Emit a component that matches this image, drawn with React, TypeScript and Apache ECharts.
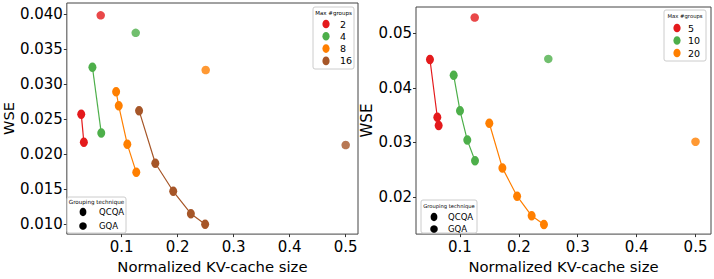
import React, { useEffect, useRef } from 'react';
import * as echarts from 'echarts';

// ---- Left panel data ----
const leftGroups = ['2', '4', '8', '16'];
const leftQcqaSize = [
  [0.0277, 0.0324],
  [0.0477, 0.0635],
  [0.09, 0.0947, 0.11, 0.126],
  [0.131, 0.16, 0.192, 0.2235, 0.249],
];
const leftQcqaWse = [
  [0.0257, 0.0217],
  [0.0324, 0.023],
  [0.0289, 0.0269, 0.0214, 0.0174],
  [0.0262, 0.0187, 0.0147, 0.0115, 0.01],
];
const leftGqaSize = [0.0625, 0.125, 0.25, 0.5];
const leftGqaWse = [0.0398, 0.0373, 0.032, 0.0213];
const leftXTicks = [0.1, 0.2, 0.3, 0.4, 0.5];
const leftYTicks = [0.01, 0.015, 0.02, 0.025, 0.03, 0.035, 0.04];

// ---- Right panel data ----
const rightGroups = ['5', '10', '20'];
const rightQcqaSize = [
  [0.049, 0.0615, 0.0638],
  [0.0893, 0.1, 0.1124, 0.1255],
  [0.1498, 0.172, 0.197, 0.2217, 0.2426],
];
const rightQcqaWse = [
  [0.0452, 0.0346, 0.0331],
  [0.0423, 0.0358, 0.0304, 0.0266],
  [0.0335, 0.0253, 0.0201, 0.0165, 0.0149],
];
const rightGqaSize = [0.125, 0.25, 0.5];
const rightGqaWse = [0.0529, 0.0453, 0.0301];
const rightXTicks = [0.1, 0.2, 0.3, 0.4, 0.5];
const rightYTicks = [0.02, 0.03, 0.04, 0.05];

const techniques = ['QCQA', 'GQA'];
const groupColors = ['#e41a1c', '#4daf4a', '#ff7f00', '#a65628'];

const FONT = 'DejaVu Sans';
const ELLIPSE = 'path://M0,-1 C0.552,-1 1,-0.552 1,0 C1,0.552 0.552,1 0,1 C-0.552,1 -1,0.552 -1,0 C-1,-0.552 -0.552,-1 0,-1 Z';

function makeSeries(groups: string[], qx: number[][], qy: number[][], gx: number[], gy: number[], idx: number) {
  const out: any[] = [];
  groups.forEach((g, i) => {
    const color = groupColors[i];
    out.push({
      type: 'line',
      name: g,
      xAxisIndex: idx,
      yAxisIndex: idx,
      data: qx[i].map((x, j) => [x, qy[i][j]]),
      symbol: ELLIPSE,
      symbolSize: [8, 9.5],
      showAllSymbol: true,
      lineStyle: { color, width: 1.2 },
      itemStyle: { color },
      z: 3,
    });
    out.push({
      type: 'scatter',
      name: g,
      xAxisIndex: idx,
      yAxisIndex: idx,
      data: [[gx[i], gy[i]]],
      symbol: 'circle',
      symbolSize: 8.5,
      itemStyle: { color },
      z: 3,
    });
  });
  return out;
}

function xAxisCfg(grid: number, min: number, max: number, ticks: number[], nameGap: number) {
  return {
    gridIndex: grid,
    type: 'value',
    min,
    max,
    splitLine: { show: false },
    axisLine: { show: false },
    axisTick: { show: true, length: 3, customValues: ticks, lineStyle: { color: '#333', width: 1 } },
    axisLabel: {
      customValues: ticks,
      formatter: (v: number) => v.toFixed(1),
      fontSize: 15,
      color: '#000',
      margin: 5,
      fontFamily: FONT,
    },
    name: 'Normalized KV-cache size',
    nameLocation: 'middle',
    nameGap,
    nameTextStyle: { fontSize: 14.8, color: '#000', fontFamily: FONT },
  };
}

function yAxisCfg(grid: number, min: number, max: number, ticks: number[], digits: number, nameGap: number, nameSize: number) {
  return {
    gridIndex: grid,
    type: 'value',
    min,
    max,
    splitLine: { show: false },
    axisLine: { show: false },
    axisTick: { show: true, length: 3, customValues: ticks, lineStyle: { color: '#333', width: 1 } },
    axisLabel: {
      customValues: ticks,
      formatter: (v: number) => v.toFixed(digits),
      fontSize: 15,
      color: '#000',
      margin: 4,
      fontFamily: FONT,
    },
    name: 'WSE',
    nameLocation: 'middle',
    nameGap,
    nameTextStyle: { fontSize: nameSize, color: '#000', fontFamily: FONT },
  };
}

function colorLegend(groups: string[], x: number, y: number, w: number, h: number, titleY: number, firstY: number, step: number, markerX: number, textX: number, fs: number, tfs: number) {
  const els: any[] = [
    { type: 'rect', shape: { x, y, width: w, height: h, r: 2 }, style: { fill: 'rgba(255,255,255,0.8)', stroke: '#cccccc', lineWidth: 1 }, z: 10 },
    { type: 'text', x: x + w / 2, y: titleY, style: { text: 'Max #groups', fontSize: tfs, fontFamily: FONT, fill: '#000', align: 'center', verticalAlign: 'middle' }, z: 11 },
  ];
  groups.forEach((g, i) => {
    const cy = firstY + i * step;
    els.push({ type: 'ellipse', shape: { cx: markerX, cy, rx: 3.6, ry: 4.3 }, style: { fill: groupColors[i] }, z: 11 });
    els.push({ type: 'text', x: textX, y: cy, style: { text: g, fontSize: fs, fontFamily: FONT, fill: '#000', align: 'left', verticalAlign: 'middle' }, z: 11 });
  });
  return els;
}

function techLegend(x: number, y: number, w: number, h: number, titleY: number, ys: number[], markerX: number, textX: number, fs: number, tfs: number) {
  const els: any[] = [
    { type: 'rect', shape: { x, y, width: w, height: h, r: 2 }, style: { fill: 'rgba(255,255,255,0.8)', stroke: '#cccccc', lineWidth: 1 }, z: 10 },
    { type: 'text', x: x + w / 2, y: titleY, style: { text: 'Grouping technique', fontSize: tfs, fontFamily: FONT, fill: '#000', align: 'center', verticalAlign: 'middle' }, z: 11 },
  ];
  techniques.forEach((t, i) => {
    const cy = ys[i];
    if (i === 0) {
      els.push({ type: 'ellipse', shape: { cx: markerX, cy, rx: 3.4, ry: 4.2 }, style: { fill: '#000' }, z: 11 });
    } else {
      els.push({ type: 'circle', shape: { cx: markerX, cy, r: 3.8 }, style: { fill: '#000' }, z: 11 });
    }
    els.push({ type: 'text', x: textX, y: cy, style: { text: t, fontSize: fs, fontFamily: FONT, fill: '#000', align: 'left', verticalAlign: 'middle' }, z: 11 });
  });
  return els;
}

export default function App() {
  const ref = useRef<HTMLDivElement>(null);
  useEffect(() => {
    if (!ref.current) return;
    const chart = echarts.init(ref.current, undefined, { renderer: 'svg' });
    chart.setOption({
      animation: false,
      backgroundColor: '#fff',
      grid: [
        { left: 65, top: 3, width: 293, height: 233, show: true, borderColor: '#444', borderWidth: 1, backgroundColor: 'transparent' },
        { left: 416, top: 7, width: 295, height: 233, show: true, borderColor: '#444', borderWidth: 1, backgroundColor: 'transparent' },
      ],
      xAxis: [
        xAxisCfg(0, 0.002, 0.522, leftXTicks, 17),
        xAxisCfg(1, 0.0253, 0.5263, rightXTicks, 18),
      ],
      yAxis: [
        yAxisCfg(0, 0.00859, 0.04156, leftYTicks, 3, 50, 14.5),
        yAxisCfg(1, 0.01315, 0.05483, rightYTicks, 2, 38, 15),
      ],
      series: [
        ...makeSeries(leftGroups, leftQcqaSize, leftQcqaWse, leftGqaSize, leftGqaWse, 0),
        ...makeSeries(rightGroups, rightQcqaSize, rightQcqaWse, rightGqaSize, rightGqaWse, 1),
      ],
      graphic: [
        ...colorLegend(leftGroups, 313, 7, 41, 62, 13, 24, 12.3, 326, 340, 9.5, 5.5),
        ...colorLegend(rightGroups, 664, 10, 42, 51, 16, 28, 12.5, 677, 688, 9.5, 5.3),
        ...techLegend(67, 197, 59, 36, 202, [212, 226], 83, 99, 8.5, 5.6),
        ...techLegend(421, 200, 56, 33, 206, [217, 229], 434, 448, 8.5, 5.2),
      ],
    });
    return () => chart.dispose();
  }, []);
  return <div ref={ref} style={{ position: 'fixed', left: 0, top: 0, width: 714, height: 279 }} />;
}
